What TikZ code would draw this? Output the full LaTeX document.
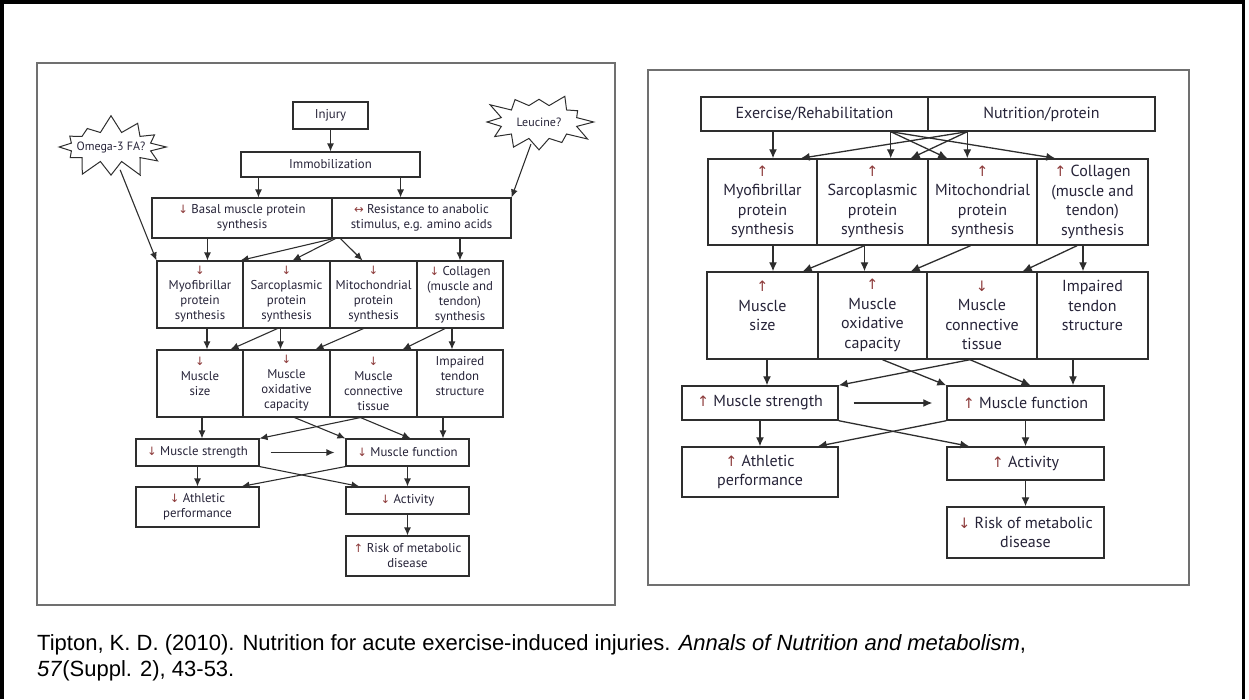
\documentclass[tikz,border=0pt]{standalone}
\usepackage{fontspec}
\setmainfont{PT Sans}
\newfontfamily\capfont{Liberation Sans}
\newfontfamily\arrfont[Scale=0.9]{DejaVu Sans}
\usetikzlibrary{arrows.meta,calc,shapes.symbols}
\definecolor{txt}{HTML}{262338}
\definecolor{glyph}{HTML}{8C3A3A}
\definecolor{ln}{HTML}{2E2E2E}
\definecolor{frm}{HTML}{707070}
\newcommand\arU{{\color{glyph}\arrfont ↑}}
\newcommand\arD{{\color{glyph}\arrfont ↓}}
\newcommand\arLR{{\color{glyph}\arrfont ↔}}
\newcommand\bx[7]{\node[#1,minimum width={(#5-#3)*1pt},minimum height={(#6-#4)*1pt}] (#2) at ({(#3+#5)/2},{(#4+#6)/2}) {#7};}
\tikzset{
  lbox/.style={draw=ln, line width=1.1pt, align=center, text=txt, inner sep=1pt, font=\fontsize{12.8}{15}\selectfont},
  rbox/.style={draw=ln, line width=1.4pt, align=center, text=txt, inner sep=1pt, font=\fontsize{16}{19.5}\selectfont},
  larr/.style={draw=ln, line width=1.1pt, -{Latex[length=8pt,width=7pt]}},
  rarr/.style={draw=ln, line width=1.3pt, -{Latex[length=9pt,width=8pt]}},
  burst/.style={starburst, draw=ln, line width=1pt, starburst points=12, starburst point height=18pt, random starburst=7, inner sep=0pt},
  frame/.style={draw=frm, line width=1.4pt},
}
\begin{document}
\begin{tikzpicture}[x=1pt,y=-1pt]
\useasboundingbox (0,0) rectangle (1249,699);
\draw[line width=3.5pt, black] (1.75,699) -- (1.75,1.75) -- (1243.5,1.75) -- (1243.5,699);
% frames
\draw[frame] (37,63) rectangle (615,605);
\draw[frame] (648,70) rectangle (1189,585);

% ---------------- LEFT ----------------
\bx{lbox}{injury}{293}{102}{368}{129}{Injury}
\bx{lbox}{immob}{241}{152}{420}{177}{Immobilization}
\bx{lbox}{basal}{152}{198}{332}{238}{\arD\ Basal muscle protein\\synthesis}
\bx{lbox}{resist}{332}{198}{511}{238}{\arLR\ Resistance to anabolic\\stimulus, e.g. amino acids}
\bx{lbox}{myo}{157}{261}{243}{328}{\arD\\Myofibrillar\\protein\\synthesis}
\bx{lbox}{sarc}{243}{261}{330}{328}{\arD\\Sarcoplasmic\\protein\\synthesis}
\bx{lbox}{mito}{330}{261}{417}{328}{\arD\\Mitochondrial\\protein\\synthesis}
\bx{lbox}{coll}{417}{261}{503}{328}{\arD\ Collagen\\(muscle and\\tendon)\\synthesis}
\bx{lbox}{size}{157}{350}{243}{417}{\arD\\Muscle\\size\\\mbox{}}
\bx{lbox}{oxid}{243}{350}{330}{417}{\arD\\Muscle\\oxidative\\capacity}
\bx{lbox}{conn}{330}{350}{417}{417}{\arD\\Muscle\\connective\\tissue}
\bx{lbox}{tend}{417}{350}{503}{417}{Impaired\\tendon\\structure\\\mbox{}}
\bx{lbox}{strength}{136}{439}{259}{466}{\arD\ Muscle strength}
\bx{lbox}{function}{346}{439}{469}{466}{\arD\ Muscle function}
\bx{lbox}{athletic}{136}{487}{259}{527}{\arD\ Athletic\\performance}
\bx{lbox}{activity}{346}{487}{469}{514}{\arD\ Activity}
\bx{lbox}{risk}{346}{536}{469}{576}{\arU\ Risk of metabolic\\disease}

\node[burst, minimum width=118pt, minimum height=66pt] (omega) at (111,147) {};
\node[text=txt, font=\fontsize{12}{14}\selectfont] (omegat) at (omega.center) {Omega-3 FA?};
\node[burst, minimum width=114pt, minimum height=70pt, random starburst=3] (leu) at (539,122) {};
\node[text=txt, font=\fontsize{12}{14}\selectfont] (leut) at (leu.center) {Leucine?};

\draw[larr] (injury) -- (immob);
\draw[larr] ([xshift=18pt]immob.south west) -- ([xshift=18pt]immob.south west |- basal.north);
\draw[larr] ([xshift=-20pt]immob.south east) -- ([xshift=-20pt]immob.south east |- resist.north);
\draw[larr, shorten <=4pt] (omega) -- (myo.north west);
\draw[larr, shorten <=2pt] (leu) -- (resist.north east);
\draw[larr] ([xshift=56pt]basal.south west) -- ([xshift=56pt]basal.south west |- myo.north);
\draw[larr] ([xshift=2pt]resist.south west) -- ([xshift=-3pt]myo.north east);
\draw[larr] ([xshift=4pt]resist.south west) -- ([xshift=6pt]sarc.north);
\draw[larr] ([xshift=9pt]resist.south west) -- ([xshift=-11pt]mito.north);
\draw[larr] (resist.south -| coll.north) -- (coll.north);
\draw[larr] ([xshift=7pt]myo.south) -- ([xshift=7pt]size.north);
\draw[larr] ([xshift=-9pt]sarc.south) -- ([xshift=-13pt]size.north east);
\draw[larr] ([xshift=-6pt]sarc.south) -- ([xshift=-6pt]oxid.north);
\draw[larr] ([xshift=-10pt]mito.south) -- ([xshift=29pt]oxid.north);
\draw[larr] ([xshift=-15pt]coll.south) -- ([xshift=-15pt]conn.north east);
\draw[larr] ([xshift=-8pt]coll.south) -- ([xshift=-8pt]tend.north);
\draw[larr] ([xshift=2pt]size.south) -- ([xshift=2pt]size.south |- strength.north);
\draw[larr] ([xshift=8pt]oxid.south) -- (function.north west);
\draw[larr] ([xshift=-13pt]conn.south) -- (strength.north east);
\draw[larr] ([xshift=-13pt]conn.south) -- ([xshift=3pt]function.north);
\draw[larr] ([xshift=-17pt]tend.south) -- ([xshift=-17pt]tend.south |- function.north);
\draw[larr] ([xshift=11pt]strength.east) -- ([xshift=-11pt]function.west);
\draw[larr] (strength) -- (athletic);
\draw[larr] (function) -- (activity);
\draw[larr] (strength.south east) -- ([xshift=14pt]activity.north west);
\draw[larr] (function.south west) -- ([xshift=44pt]athletic.north);
\draw[larr] (activity) -- (risk);

% ---------------- RIGHT ----------------
\bx{rbox}{exer}{701}{97}{928}{131}{Exercise/Rehabilitation}
\bx{rbox}{nutr}{928}{97}{1155}{131}{Nutrition/protein}
\bx{rbox}{rmyo}{708}{159}{817}{245}{\arU\\Myofibrillar\\protein\\synthesis}
\bx{rbox}{rsarc}{817}{159}{928}{245}{\arU\\Sarcoplasmic\\protein\\synthesis}
\bx{rbox}{rmito}{928}{159}{1037}{245}{\arU\\Mitochondrial\\protein\\synthesis}
\bx{rbox}{rcoll}{1037}{159}{1148}{245}{\arU\ Collagen\\(muscle and\\tendon)\\synthesis}
\bx{rbox}{rsize}{707}{272}{818}{359}{\arU\\Muscle\\size\\\mbox{}}
\bx{rbox}{roxid}{818}{272}{927}{359}{\arU\\Muscle\\oxidative\\capacity}
\bx{rbox}{rconn}{927}{272}{1037}{359}{\arD\\Muscle\\connective\\tissue}
\bx{rbox}{rtend}{1037}{272}{1148}{359}{Impaired\\tendon\\structure\\\mbox{}}
\bx{rbox}{rstr}{682}{386}{838}{420}{\arU\ Muscle strength}
\bx{rbox}{rfun}{947}{386}{1104}{420}{\arU\ Muscle function}
\bx{rbox}{rath}{682}{447}{838}{497}{\arU\ Athletic\\performance}
\bx{rbox}{ract}{947}{447}{1104}{480}{\arU\ Activity}
\bx{rbox}{rrisk}{947}{507}{1104}{558}{\arD\ Risk of metabolic\\disease}

\coordinate (exs) at ([xshift=-38pt]exer.south east);
\coordinate (nus) at ([xshift=40pt]nutr.south west);
\draw[rarr] ([xshift=10.5pt]rmyo.north |- exer.south) -- ([xshift=10.5pt]rmyo.north);
\draw[rarr] (exs) -- (exs |- rsarc.north);
\draw[rarr] (exs) -- ([xshift=20pt]rmito.north west);
\draw[rarr] (exs) -- ([xshift=19pt]rcoll.north west);
\draw[rarr] (nus) -- (nus |- rmito.north);
\draw[rarr] (nus) -- ([xshift=-18pt]rsarc.north east);
\draw[rarr] (nus) -- ([xshift=-17pt]rmyo.north east);
\draw[rarr] ([xshift=10.5pt]rmyo.south) -- ([xshift=10.5pt]rsize.north);
\draw[rarr] ([xshift=-8pt]rsarc.south) -- ([xshift=-16pt]rsize.north east);
\draw[rarr] ([xshift=-8pt]rsarc.south) -- ([xshift=-8pt]roxid.north);
\draw[rarr] ([xshift=-12pt]rmito.south) -- ([xshift=-17pt]roxid.north east);
\draw[rarr] ([xshift=-15.5pt]rcoll.south) -- ([xshift=-15pt]rconn.north east);
\draw[rarr] ([xshift=-9.5pt]rcoll.south) -- ([xshift=-9.5pt]rtend.north);
\draw[rarr] ([xshift=4.5pt]rsize.south) -- ([xshift=4.5pt]rsize.south |- rstr.north);
\draw[rarr] ([xshift=10pt]roxid.south) -- (rfun.north west);
\draw[rarr] ([xshift=-12pt]rconn.south) -- (rstr.north east);
\draw[rarr] ([xshift=-12pt]rconn.south) -- ([xshift=5pt]rfun.north);
\draw[rarr] ([xshift=-19.5pt]rtend.south) -- ([xshift=-19.5pt]rtend.south |- rfun.north);
\draw[rarr] ([xshift=15pt]rstr.east) -- ([xshift=-14pt]rfun.west);
\draw[rarr] (rstr) -- (rath);
\draw[rarr] (rfun) -- (ract);
\draw[rarr] (rstr.south east) -- ([xshift=23pt]ract.north west);
\draw[rarr] (rfun.south west) -- ([xshift=-21pt]rath.north east);
\draw[rarr] (ract) -- (rrisk);

% caption
\node[anchor=base west, inner sep=0, font=\capfont\fontsize{22}{26}\selectfont] (cap1) at (37,650) {Tipton, K. D. (2010). Nutrition for acute exercise-induced injuries. \textit{Annals of Nutrition and metabolism},};
\node[anchor=base west, inner sep=0, font=\capfont\fontsize{22}{26}\selectfont] (cap2) at (37,676) {\textit{57}(Suppl. 2), 43-53.};
\end{tikzpicture}
\end{document}
